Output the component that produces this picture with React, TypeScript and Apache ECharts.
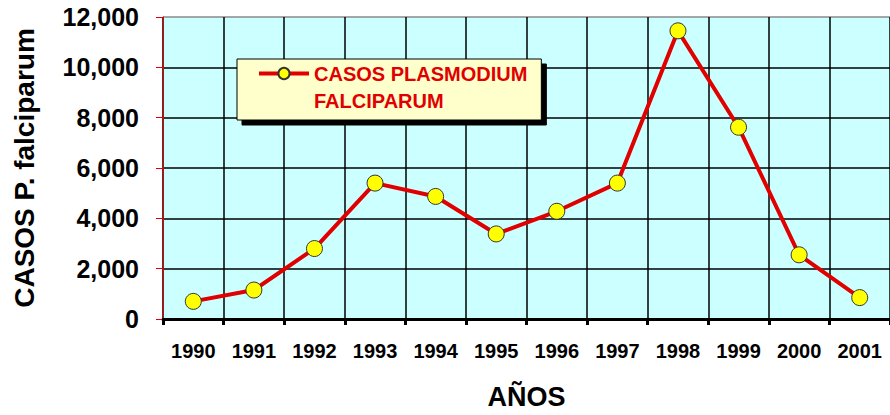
import React, { useEffect, useRef } from "react";
import * as echarts from "echarts";

const years = ["1990", "1991", "1992", "1993", "1994", "1995", "1996", "1997", "1998", "1999", "2000", "2001"];
const cases = [700, 1150, 2800, 5400, 4870, 3380, 4280, 5400, 11450, 7620, 2550, 850];
const seriesName = "CASOS PLASMODIUM\nFALCIPARUM";
const yTitle = "CASOS P. falciparum";
const xTitle = "AÑOS";

const FONT = "'Liberation Sans', Arial, sans-serif";

export default function App() {
  const ref = useRef<HTMLDivElement>(null);
  useEffect(() => {
    if (!ref.current) return;
    const chart = echarts.init(ref.current, null, { renderer: "svg" });
    chart.setOption({
      animation: false,
      backgroundColor: "#ffffff",
      textStyle: { fontFamily: FONT },
      grid: {
        left: 163,
        top: 17,
        width: 732,
        bottom: 96,
        show: true,
        backgroundColor: "#CCFFFF",
        borderWidth: 0,
      },
      legend: {
        left: 237,
        top: 59,
        orient: "vertical",
        data: [seriesName],
        formatter: (name: string) => "\n" + name,
        backgroundColor: "#FFFFCC",
        borderColor: "#000",
        borderWidth: 1,
        shadowColor: "#000",
        shadowOffsetX: 5,
        shadowOffsetY: 5,
        shadowBlur: 0,
        padding: [-26, 14, 6, 20],
        itemWidth: 50,
        itemHeight: 14,
        lineStyle: { width: 4 },
        textStyle: {
          color: "#E00000",
          fontWeight: "bold",
          fontSize: 20,
          lineHeight: 27,
          fontFamily: FONT,
        },
      },
      xAxis: {
        type: "category",
        data: years,
        boundaryGap: true,
        axisLine: { show: true, lineStyle: { color: "#000", width: 3 } },
        axisTick: { show: true, length: 6, lineStyle: { color: "#000", width: 3 } },
        axisLabel: { color: "#000", fontSize: 20, fontWeight: "bold", margin: 22, fontFamily: FONT },
        splitLine: { show: true, lineStyle: { color: "#000", width: 1.5 } },
        name: xTitle,
        nameLocation: "middle",
        nameGap: 64,
        nameTextStyle: { color: "#000", fontSize: 27, fontWeight: "bold", fontFamily: FONT },
      },
      yAxis: {
        type: "value",
        min: 0,
        max: 12000,
        interval: 2000,
        axisLine: { show: true, lineStyle: { color: "#E00000", width: 1 } },
        axisTick: { show: true, length: 7, lineStyle: { color: "#E00000", width: 1 } },
        axisLabel: {
          color: "#000",
          fontSize: 25,
          fontWeight: "bold",
          margin: 24,
          fontFamily: FONT,
          formatter: (v: number) => v.toLocaleString("en-US"),
        },
        splitLine: {
          show: true,
          lineStyle: { color: ["#000", "#000", "#000", "#000", "#000", "#000", "#8a8a8a"], width: 1.5 },
        },
        name: yTitle,
        nameLocation: "middle",
        nameRotate: 90,
        nameGap: 125,
        nameTextStyle: { color: "#000", fontSize: 28, fontWeight: "bold", fontFamily: FONT },
      },
      series: [
        {
          name: seriesName,
          type: "line",
          data: cases,
          symbol: "circle",
          symbolSize: 16,
          lineStyle: { color: "#E00000", width: 4 },
          itemStyle: { color: "#FFFF00", borderColor: "#333", borderWidth: 1 },
          z: 5,
        },
      ],
    });
    return () => chart.dispose();
  }, []);
  return (
    <div
      ref={ref}
      style={{ position: "fixed", left: 0, top: 0, width: 890, height: 415 }}
    />
  );
}
